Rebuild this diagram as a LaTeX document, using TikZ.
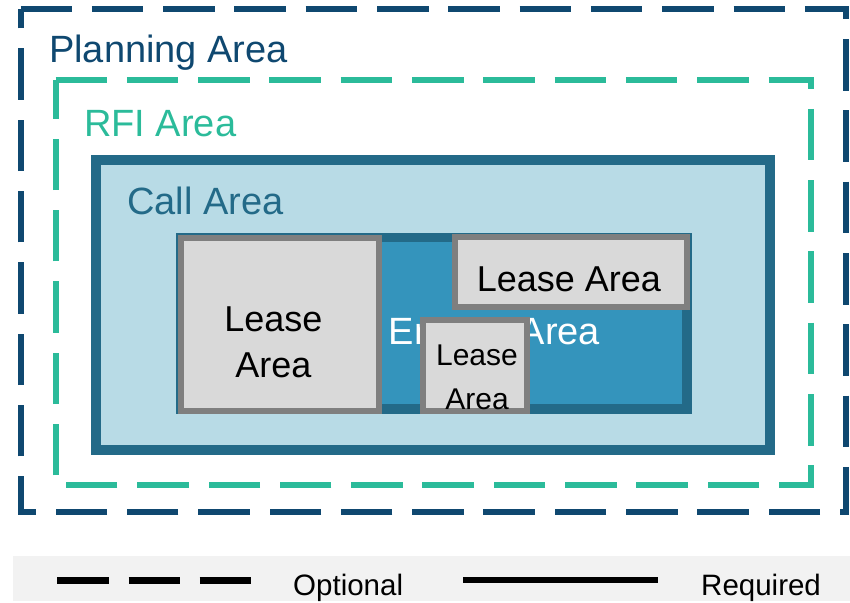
\documentclass[tikz,border=0pt]{standalone}
\usepackage{fontspec}
\setmainfont{Liberation Sans}
\usepackage{xcolor}
\definecolor{ColPlan}{RGB}{15,72,112}
\definecolor{ColRfi}{RGB}{43,187,154}
\definecolor{ColCall}{RGB}{35,106,136}
\definecolor{ColCallFill}{RGB}{184,219,230}
\definecolor{ColEnergy}{RGB}{52,148,188}
\definecolor{ColLease}{RGB}{217,217,217}
\definecolor{ColLeaseEdge}{RGB}{127,127,127}
\definecolor{ColKey}{RGB}{242,242,242}
\tikzstyle{DashBorder}=[line width=6pt,dash pattern=on 51.5pt off 19.8pt]
\tikzstyle{AreaBox}=[rectangle,inner sep=0pt]
\tikzstyle{CallBox}=[AreaBox,draw=ColCall,fill=ColCallFill,line width=10pt]
\tikzstyle{EnergyBox}=[AreaBox,draw=ColCall,fill=ColEnergy,line width=9.5pt]
\tikzstyle{LeaseBox}=[AreaBox,draw=ColLeaseEdge,fill=ColLease,line width=6pt]
\tikzstyle{AreaLabel}=[inner sep=0pt,font=\fontsize{38}{46}\selectfont]
\tikzstyle{LeaseLabel}=[inner sep=0pt,align=center]
\tikzstyle{KeyLabel}=[inner sep=0pt,anchor=base west,font=\fontsize{29.5}{34}\selectfont]

\begin{document}
\begin{tikzpicture}[x=1pt,y=-1pt]
        \useasboundingbox (0,0) rectangle (850,602);
        % planning area
        \coordinate(plan-nw)at(20.5,9);
        \coordinate(plan-ne)at(846,9);
        \coordinate(plan-se)at(846,512.3);
        \coordinate(plan-sw)at(20.5,512.3);
        \draw[DashBorder,draw=ColPlan](plan-nw)--(plan-ne)--(plan-se)--(plan-sw)--cycle;
        \node[AreaLabel,text=ColPlan,anchor=base west](plan-txt)at(49,62.3){Planning Area};
        % rfi area
        \coordinate(rfi-nw)at(55.5,80);
        \coordinate(rfi-ne)at(811,80);
        \coordinate(rfi-se)at(811,484.7);
        \coordinate(rfi-sw)at(55.5,484.7);
        \draw[DashBorder,draw=ColRfi](rfi-nw)--(rfi-ne)--(rfi-se)--(rfi-sw)--cycle;
        \node[AreaLabel,text=ColRfi,anchor=base west](rfi-txt)at(84,136){RFI Area};
        % call area
        \node[CallBox,minimum width=674pt,minimum height=290pt](call)at(433,305){};
        \node[AreaLabel,text=ColCall,anchor=base west](call-txt)at(127,214){Call Area};
        % energy area
        \node[EnergyBox,minimum width=506pt,minimum height=171.5pt](energy)at(434,323){};
        \node[AreaLabel,text=white,anchor=base](energy-txt)at(494.5,344){Energy Area};
        % lease areas
        \node[LeaseBox,minimum width=198pt,minimum height=173.8pt](lease-a)at(279.5,324.4){};
        \node[LeaseLabel,font=\fontsize{36}{46}\selectfont](lease-a-txt)at(273.3,341.9){Lease\\Area};
        \node[LeaseBox,minimum width=232pt,minimum height=70.4pt](lease-b)at(571,272){};
        \node[LeaseLabel,anchor=base,font=\fontsize{36}{46}\selectfont](lease-b-txt)at(569,291){Lease Area};
        \node[LeaseBox,minimum width=104.2pt,minimum height=91pt](lease-c)at(475.3,365.5){};
        \node[LeaseLabel,font=\fontsize{30}{44}\selectfont](lease-c-txt)at(477,377.5){Lease\\Area};
        % key
        \node[AreaBox,fill=ColKey,minimum width=837.3pt,minimum height=45pt,anchor=north west](key)at(12.7,556){};
        \coordinate(opt-a)at(57.3,580.5);
        \coordinate(opt-b)at(251.3,580.5);
        \draw[line width=6.3pt,dash pattern=on 51.7pt off 19.5pt](opt-a)--(opt-b);
        \node[KeyLabel](opt-txt)at(293,595.7){Optional};
        \coordinate(req-a)at(463.3,580);
        \coordinate(req-b)at(657.7,580);
        \draw[line width=6.6pt](req-a)--(req-b);
        \node[KeyLabel](req-txt)at(701,595.3){Required};
    \end{tikzpicture}
\end{document}
